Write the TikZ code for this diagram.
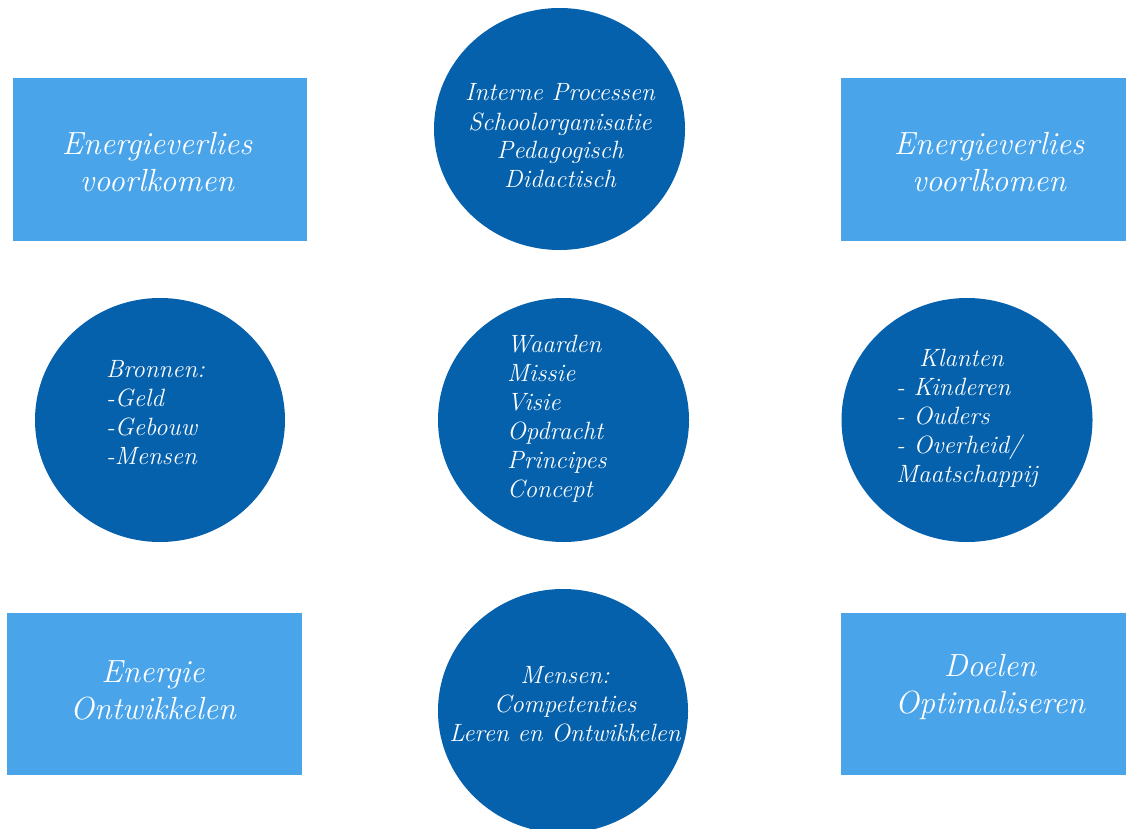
\documentclass[tikz,border=0pt]{standalone}
\usepackage{fontspec}
\usetikzlibrary{shapes.geometric}
\definecolor{boxblue}{RGB}{74,164,234}
\definecolor{discblue}{RGB}{5,97,172}
\begin{document}
\begin{tikzpicture}[x=1pt,y=-1pt,
  box/.style={fill=boxblue,draw=none,inner sep=0pt,outer sep=0pt,anchor=north west},
  disc/.style={ellipse,fill=discblue,draw=none,inner sep=0pt,outer sep=0pt},
  boxtxt/.style={text=white,inner sep=0pt,anchor=base,align=center,font=\fontsize{32}{37}\selectfont\itshape},
  disctxt/.style={text=white,inner sep=0pt,font=\fontsize{25}{29}\selectfont\itshape}]
\useasboundingbox (0,0) rectangle (1126,829);
\clip (0,0) rectangle (1126,829);
% rectangles
\node[box,minimum width=294pt,minimum height=163pt] (tl) at (13,78) {};
\node[box,minimum width=285pt,minimum height=163pt] (tr) at (841,78) {};
\node[box,minimum width=295pt,minimum height=162pt] (bl) at (7,613) {};
\node[box,minimum width=285pt,minimum height=162pt] (br) at (841,613) {};
% discs
\node[disc,minimum width=251pt,minimum height=242pt] (top) at (559.5,129) {};
\node[disc,minimum width=250pt,minimum height=244pt] (left) at (160,420) {};
\node[disc,minimum width=251pt,minimum height=244pt] (mid) at (563.5,420) {};
\node[disc,minimum width=251pt,minimum height=244pt] (right) at (967,420) {};
\node[disc,minimum width=250pt,minimum height=244pt] (bot) at (563,711) {};
% box texts (base = last line baseline)
\node[boxtxt] (tltxt) at (157,192) {Energieverlies\\voorlkomen};
\node[boxtxt] (trtxt) at (989,192) {Energieverlies\\voorlkomen};
\node[boxtxt] (bltxt) at (153,719) {Energie\\Ontwikkelen};
\node[boxtxt] (brtxt) at (990,713) {Doelen\\Optimaliseren};
% disc texts
\node[disctxt,anchor=base,align=center] (toptxt) at (560,188) {Interne Processen\\Schoolorganisatie\\Pedagogisch\\Didactisch};
\node[disctxt,anchor=base west,align=left] (lefttxt) at (106,464) {Bronnen:\\-Geld\\-Gebouw\\-Mensen};
\node[disctxt,anchor=base west,align=left] (midtxt) at (507,497) {Waarden\\Missie\\Visie\\Opdracht\\Principes\\Concept};
\node[disctxt,anchor=base west,align=left] (righttxt) at (896,482) {\hspace*{23pt}Klanten\\- Kinderen\\- Ouders\\- Overheid/\\Maatschappij};
\node[disctxt,anchor=base,align=center] (bottxt) at (565,741) {Mensen:\\Competenties\\Leren en Ontwikkelen};
\end{tikzpicture}
\end{document}
